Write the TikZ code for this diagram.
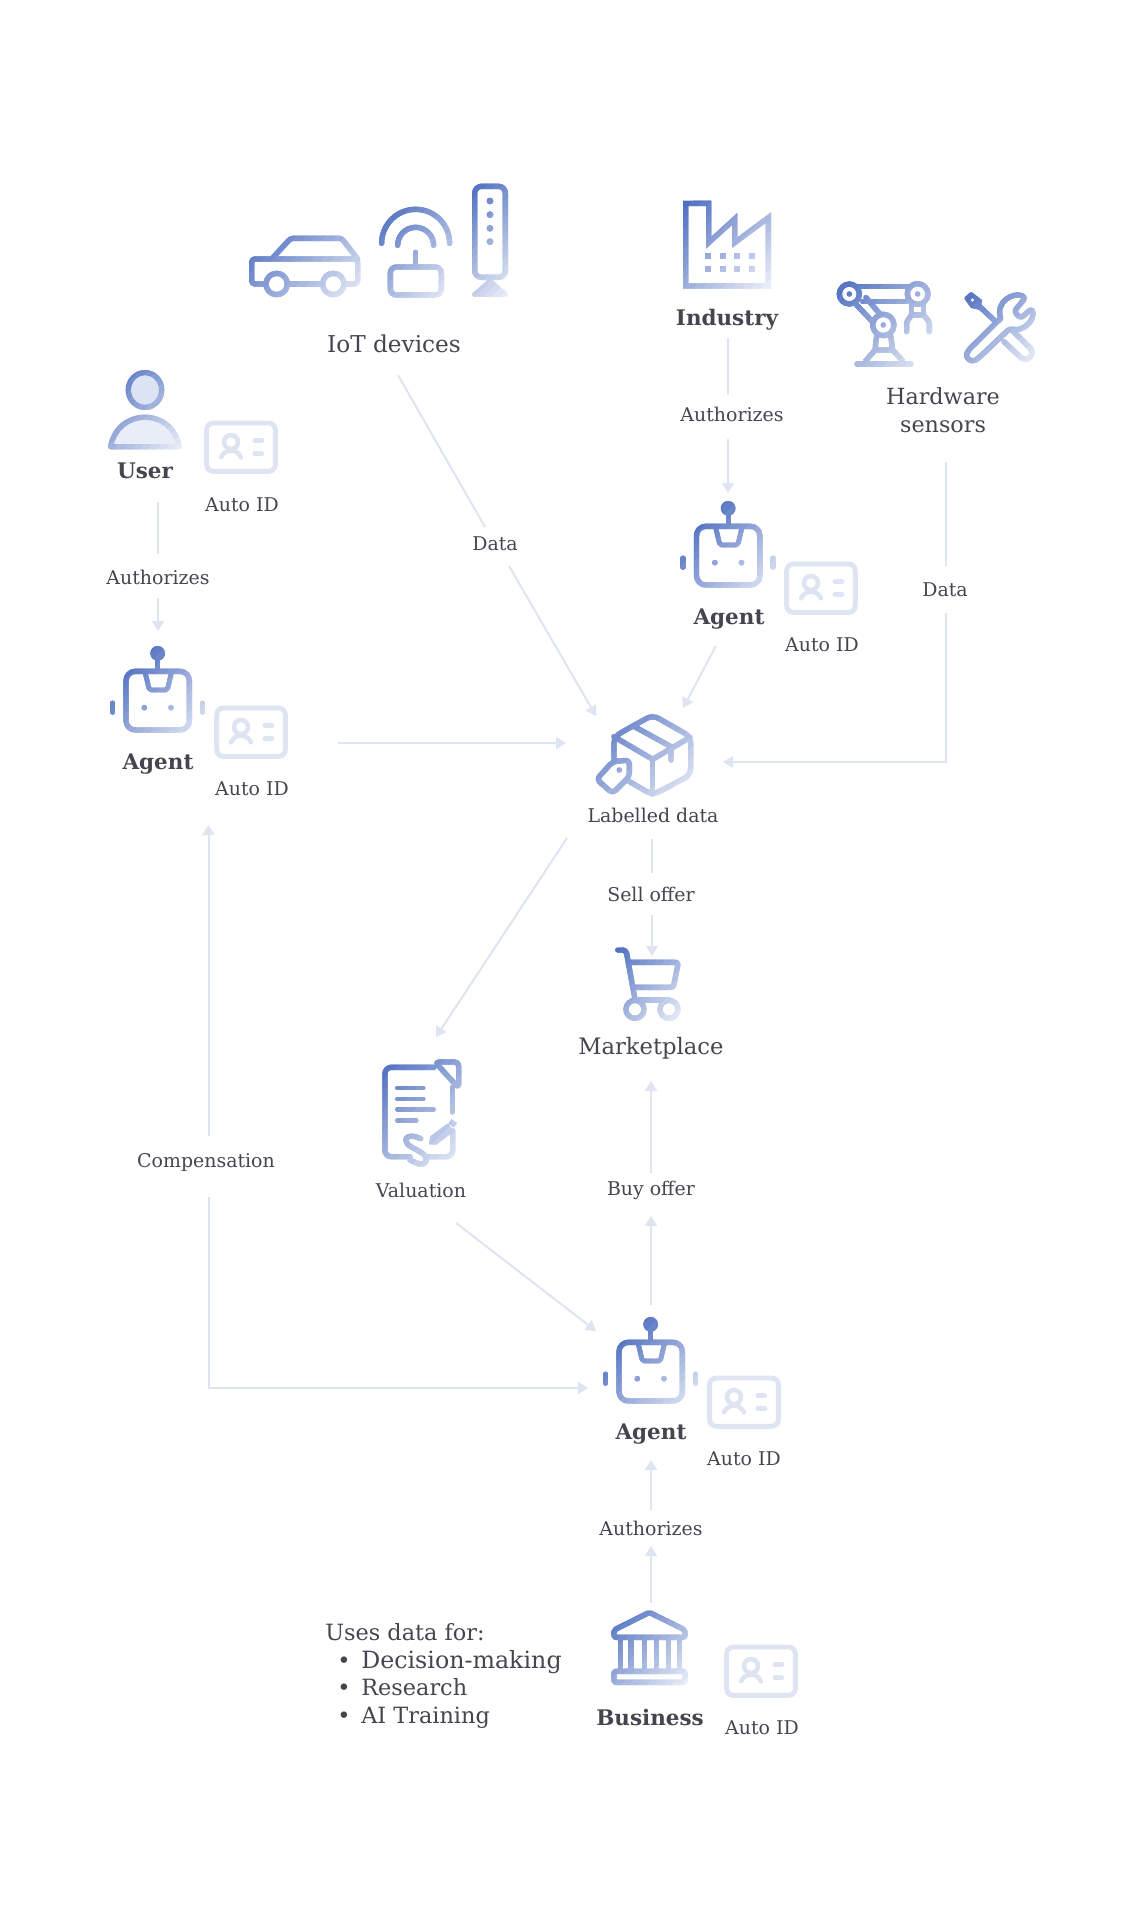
\documentclass[tikz,border=0pt]{standalone}
\usepackage{fontspec}
\setmainfont{DejaVu Serif}
\usetikzlibrary{arrows.meta}
\definecolor{gA}{HTML}{4F6FC0}
\definecolor{gB}{HTML}{E8ECF7}
\definecolor{conncol}{HTML}{DFE4F2}
\definecolor{idcol}{HTML}{DFE4F2}
\definecolor{txtcol}{HTML}{45454F}
\definecolor{headfill}{HTML}{DCE3F3}
\definecolor{bodyfill}{HTML}{E9EDF7}
\colorlet{gc}{gA}
% gradient icon: stroked artwork painted through diagonal clip bands
\newcommand\gicon[7]{%
 \begin{scope}[shift={(#1,#2)},scale=0.33333]
 \foreach \gi in {0,...,17}{%
  \pgfmathsetmacro\pc{100-\gi*100/17}%
  \colorlet{gc}{gA!\pc!gB}%
  \pgfmathsetmacro\ds{(#5+#6)/18}%
  \pgfmathsetmacro\sa{#3+#4+\gi*\ds-(\gi==0)*1500}%
  \pgfmathsetmacro\sb{#3+#4+(\gi+2)*\ds+(\gi==17)*1500}%
  \pgfmathsetmacro\xl{#3-800}%
  \pgfmathsetmacro\xr{#3+#5+800}%
  \begin{scope}
   \clip (\xl,\sa-\xl) -- (\xr,\sa-\xr) -- (\xr,\sb-\xr) -- (\xl,\sb-\xl) -- cycle;
   #7
  \end{scope}
 }
 \end{scope}}
\newcommand\agentart{%
 \fill[gc] (203,40) circle[radius=22];
 \draw[ic] (203,60) -- (203,94);
 \draw[ic,rounded corners=7pt] (108,94) rectangle (298,270);
 \draw[ic,line width=3.6pt,rounded corners=1.5pt] (165,95) -- (178,150) -- (232,150) -- (245,95);
 \fill[gc] (163,203) circle[radius=8.5] (243,203) circle[radius=8.5];
 \draw[ic,line width=4.2pt] (68,190) -- (68,216);
 \draw[ic,line width=4.2pt] (338,190) -- (338,216);
}
\newcommand\agenticon[2]{\gicon{#1}{#2}{150}{20}{220}{250}{\agentart}}
\newcommand\cardicon[2]{%
 \begin{scope}[shift={(#1,#2)},scale=0.33333,line cap=round,line join=round]
  \draw[idcol,line width=3.7pt,rounded corners=5pt] (-103,-72) rectangle (103,73);
  \draw[idcol,line width=3.4pt] (-30,-15) circle[radius=21];
  \draw[idcol,line width=3.4pt] (-60,31) .. controls (-48,4) and (-12,4) .. (0,31);
  \draw[idcol,line width=3.4pt] (41,-20) -- (63,-20) (41,20) -- (63,20);
 \end{scope}}
\tikzset{
 ic/.style={draw=gc,line width=4pt,line cap=round,line join=round},
 conn/.style={draw=conncol,line width=1.5pt},
 arr/.style={conn,-{Triangle[width=9pt,length=7.5pt]}},
 lab/.style={anchor=base,inner sep=0pt,text=txtcol,font=\fontsize{14.2pt}{16pt}\selectfont},
 big/.style={anchor=base,inner sep=0pt,text=txtcol,font=\fontsize{17.4pt}{20pt}\selectfont},
 bld/.style={anchor=base,inner sep=0pt,text=txtcol,font=\bfseries\fontsize{16.1pt}{19pt}\selectfont},
 usesl/.style={anchor=base west,inner sep=0pt,text=txtcol,font=\fontsize{16.8pt}{20pt}\selectfont},
}
\begin{document}
\begin{tikzpicture}[x=0.75pt,y=-0.75pt]
\useasboundingbox (0,0) rectangle (1131,1920);
% ---------- icons
% car
\gicon{220}{160}{85}{225}{340}{190}{%
 \draw[ic,rounded corners=2.5pt] (135,372) -- (95,372) -- (95,297) -- (413,297) -- (413,372) -- (376,372);
 \draw[ic] (205,372) -- (304,372);
 \draw[ic,rounded corners=2pt] (155,297) -- (212,235) -- (365,235) -- (413,297);
 \draw[ic] (170,372) circle[radius=32];
 \draw[ic] (340,372) circle[radius=32];
}
% router
\gicon{220}{160}{480}{155}{215}{260}{%
 \draw[ic] (485,250) arc[start angle=180,end angle=360,radius=102];
 \draw[ic] (533,256) arc[start angle=180,end angle=360,radius=54];
 \draw[ic] (587,277) -- (587,320);
 \draw[ic,rounded corners=4.5pt] (511,321) rectangle (664,405);
}
% tower
\gicon{220}{160}{755}{70}{110}{340}{%
 \draw[ic,rounded corners=5pt] (764,79) rectangle (856,352);
 \fill[gc] (810,123) circle[radius=10] (810,164) circle[radius=10] (810,205) circle[radius=10] (810,245) circle[radius=10];
 \fill[gc,draw=gc,line width=3pt,line join=round] (810,362) -- (858,404) -- (762,404) -- cycle;
}
% factory
\gicon{660}{180}{70}{62}{262}{262}{%
 \draw[ic,line cap=butt,line join=miter] (77,70) -- (146,70) -- (146,188) -- (224,117) -- (224,188) -- (325,113) -- (325,318) -- (77,318) -- cycle;
 \foreach \wx in {135,179,223,267}{\foreach \wy in {220,259}{\fill[gc] (\wx,\wy) rectangle ++(18,18);}}
}
% robot arm
\gicon{660}{180}{528}{300}{290}{265}{%
 \draw[ic] (568,342) circle[radius=30];
 \draw[ic] (773,342) circle[radius=31];
 \draw[ic] (670,435) circle[radius=32];
 \fill[gc] (568,342) circle[radius=8] (773,342) circle[radius=8] (670,435) circle[radius=8];
 \draw[ic] (590,320) -- (750,320) (608,365) -- (740,365);
 \draw[ic] (590,375) -- (640,428) (618,353) -- (660,402);
 \draw[ic,line cap=butt] (650,466) -- (645,510) -- (615,545) (692,466) -- (698,510) -- (730,545) (645,510) -- (698,510);
 \draw[ic,line width=4.4pt] (592,553) -- (752,553);
 \draw[ic,line cap=butt] (755,370) -- (755,405) -- (790,405) -- (790,370);
 \draw[ic,rounded corners=2pt] (755,405) -- (740,425) -- (740,455);
 \draw[ic,rounded corners=2pt] (790,405) -- (808,425) -- (808,455);
}
% tools
\gicon{660}{180}{912}{335}{215}{212}{%
 \fill[gc,draw=gc,line width=2pt,line join=round] (917,354) -- (933,340) -- (962,362) -- (957,385) -- (935,380) -- cycle;
 \fill[white] (937,360) circle[radius=5];
 \draw[ic] (957,378) -- (1002,420);
 \draw[ic,rounded corners=2.5pt] (1022,415) -- (924,512) .. controls (915,535) and (935,548) .. (955,535) -- (1050,445) .. controls (1085,455) and (1125,425) .. (1116,385) -- (1082,415) -- (1062,395) -- (1097,352) .. controls (1060,335) and (1005,365) .. (1022,415);
 \draw[ic] (1058,452) -- (1112,506) .. controls (1125,525) and (1105,548) .. (1083,533) -- (1032,485);
}
% user
\gicon{90}{360}{55}{30}{218}{240}{%
 \fill[headfill] (165,90) ellipse[x radius=50,y radius=52];
 \draw[ic] (165,90) ellipse[x radius=50,y radius=52];
 \fill[bodyfill] (62,260) .. controls (72,205) and (115,172) .. (165,172) .. controls (215,172) and (258,205) .. (267,260) -- cycle;
 \draw[ic] (62,260) .. controls (72,205) and (115,172) .. (165,172) .. controls (215,172) and (258,205) .. (267,260) -- cycle;
}
% agents
\agenticon{90}{640}
\agenticon{660.5}{495}
\agenticon{583}{1311}
% labelled data box
\gicon{570}{700}{70}{40}{300}{250}{%
 \draw[ic,rounded corners=5pt] (170,240) -- (248,285) -- (362,225) -- (362,110) -- (248,45) -- (132,110) -- (132,178);
 \draw[ic] (132,110) -- (248,178) -- (360,112);
 \draw[ic] (248,178) -- (248,283);
 \draw[ic] (190,78) -- (303,140) -- (303,180);
 \draw[ic,rounded corners=3pt] (80,238) -- (128,185) -- (178,180) -- (178,230) -- (128,280) -- cycle;
 \fill[gc] (148,210) circle[radius=8];
}
% cart
\gicon{570}{930}{135}{50}{200}{225}{%
 \draw[ic,rounded corners=2.5pt] (143,60) -- (168,60) -- (195,208);
 \draw[ic,rounded corners=2pt] (180,97) -- (325,97) -- (310,172) -- (190,172);
 \draw[ic] (195,210) -- (297,210);
 \draw[ic] (195,238) circle[radius=27];
 \draw[ic] (297,238) circle[radius=27];
}
% valuation
\gicon{360}{1050}{70}{30}{230}{320}{%
 \draw[ic,rounded corners=4.5pt] (222,52) -- (75,52) -- (75,320) -- (150,320);
 \draw[ic,rounded corners=4.5pt] (207,320) -- (278,320) -- (278,242);
 \draw[ic] (278,112) -- (278,186);
 \draw[ic,rounded corners=3pt] (225,36) -- (296,36) -- (296,114) -- cycle;
 \draw[ic,line width=3.7pt] (113,114) -- (189,114) (113,147) -- (189,147) (113,179) -- (220,179) (113,211) -- (168,211);
 \fill[gc,draw=gc,line width=1pt,line join=round] (209,281) -- (213,260) -- (263,223) -- (279,243) -- (228,282) -- cycle;
 \draw[ic,line cap=butt] (270,214) -- (286,226);
 \draw[ic] (182,266) .. controls (150,250) and (125,262) .. (145,285) .. controls (165,300) and (205,310) .. (198,335) .. controls (190,350) and (170,340) .. (150,330);
}
% business
\gicon{590}{1600}{65}{30}{230}{225}{%
 \draw[ic,rounded corners=1.5pt] (178,37) -- (285,90) -- (285,112) -- (72,112) -- (72,90) -- cycle;
 \draw[ic,line cap=butt] (92,112) -- (92,215) (123,112) -- (123,215) (163,112) -- (163,215) (200,112) -- (200,215) (236,112) -- (236,215) (268,112) -- (268,215);
 \draw[ic,rounded corners=1.5pt] (72,214) rectangle (285,247);
}
% ID cards
\cardicon{241}{447}
\cardicon{251}{732}
\cardicon{821}{588}
\cardicon{744}{1402}
\cardicon{761}{1671}
% ---------- texts
\node[big] (iot) at (394,352) {IoT devices};
\node[bld] (industry) at (727,325) {Industry};
\node[big,font=\fontsize{16.7pt}{20pt}\selectfont] (hw1) at (943,404) {Hardware};
\node[big,font=\fontsize{16.7pt}{20pt}\selectfont] (hw2) at (943,432) {sensors};
\node[bld] (user) at (145,478) {User};
\node[lab] (idu) at (242,511) {Auto ID};
\node[lab] (authu) at (158,584) {Authorizes};
\node[bld] (agent1) at (158,769) {Agent};
\node[lab] (id1) at (252,795) {Auto ID};
\node[lab] (authi) at (732,421) {Authorizes};
\node[bld] (agent2) at (729,624) {Agent};
\node[lab] (id2) at (822,651) {Auto ID};
\node[lab] (data1) at (495,550) {Data};
\node[lab] (data2) at (945,596) {Data};
\node[lab] (labelled) at (653,822) {Labelled data};
\node[lab] (sell) at (651,901) {Sell offer};
\node[big,font=\fontsize{17pt}{20pt}\selectfont] (market) at (651,1054) {Marketplace};
\node[lab] (valuation) at (421,1197) {Valuation};
\node[lab] (comp) at (206,1167) {Compensation};
\node[lab] (buy) at (651,1195) {Buy offer};
\node[bld] (agent3) at (651,1439) {Agent};
\node[lab] (id3) at (744,1465) {Auto ID};
\node[lab] (authb) at (651,1535) {Authorizes};
\node[bld] (business) at (650,1725) {Business};
\node[lab] (idb) at (762,1734) {Auto ID};
\node[usesl] (uses0) at (325,1640) {Uses data for:};
\node[usesl] (uses1) at (337,1668) {•};
\node[usesl] (uses2) at (337,1695) {•};
\node[usesl] (uses3) at (337,1723) {•};
\node[usesl,font=\fontsize{17.8pt}{20pt}\selectfont] (usest1) at (361,1668) {Decision-making};
\node[usesl] (usest2) at (361,1695) {Research};
\node[usesl] (usest3) at (361,1723) {AI Training};
% ---------- connector ports
\coordinate (iotOut) at (398,375);
\coordinate (data1In) at (485,527);
\coordinate (data1Out) at (509,566);
\coordinate (boxInIot) at (596,716);
\coordinate (indOut) at (728,338);
\coordinate (authiIn) at (728,395);
\coordinate (authiOut) at (728,439);
\coordinate (ag2In) at (728,493);
\coordinate (ag2Out) at (716,646);
\coordinate (boxInAg2) at (683,708);
\coordinate (hwOut) at (946,462);
\coordinate (data2In) at (946,566);
\coordinate (data2Out) at (946,613);
\coordinate (hwBend) at (946,762);
\coordinate (boxInHw) at (723,762);
\coordinate (userOut) at (158,502);
\coordinate (authuIn) at (158,554);
\coordinate (authuOut) at (158,598);
\coordinate (ag1In) at (158,631);
\coordinate (ag1Out) at (338,743);
\coordinate (boxInAg1) at (566,743);
\coordinate (boxOut) at (652,839);
\coordinate (sellIn) at (652,873);
\coordinate (sellOut) at (652,915);
\coordinate (marketIn) at (652,956);
\coordinate (boxOutVal) at (567,838);
\coordinate (valIn) at (436,1037);
\coordinate (valOut) at (456,1223);
\coordinate (ag3InVal) at (596,1331);
\coordinate (ag3Out) at (651,1305);
\coordinate (buyIn) at (651,1216);
\coordinate (buyOut) at (651,1173);
\coordinate (marketInB) at (651,1081);
\coordinate (ag3OutC) at (588,1388);
\coordinate (compBend) at (208.5,1388);
\coordinate (compIn) at (208.5,1197);
\coordinate (compOut) at (208.5,1136);
\coordinate (ag1InC) at (208.5,825);
\coordinate (busOut) at (651,1603);
\coordinate (authbIn) at (651,1546);
\coordinate (authbOut) at (651,1510);
\coordinate (ag3In) at (651,1460);
% ---------- connectors
\draw[conn] (iotOut) -- (data1In);
\draw[arr] (data1Out) -- (boxInIot);
\draw[conn] (indOut) -- (authiIn);
\draw[arr] (authiOut) -- (ag2In);
\draw[arr] (ag2Out) -- (boxInAg2);
\draw[conn] (hwOut) -- (data2In);
\draw[arr] (data2Out) -- (hwBend) -- (boxInHw);
\draw[conn] (userOut) -- (authuIn);
\draw[arr] (authuOut) -- (ag1In);
\draw[arr] (ag1Out) -- (boxInAg1);
\draw[conn] (boxOut) -- (sellIn);
\draw[arr] (sellOut) -- (marketIn);
\draw[arr] (boxOutVal) -- (valIn);
\draw[arr] (valOut) -- (ag3InVal);
\draw[arr] (ag3Out) -- (buyIn);
\draw[arr] (buyOut) -- (marketInB);
\draw[arr] (compIn) -- (compBend) -- (ag3OutC);
\draw[arr] (compOut) -- (ag1InC);
\draw[arr] (busOut) -- (authbIn);
\draw[arr] (authbOut) -- (ag3In);
\end{tikzpicture}
\end{document}
